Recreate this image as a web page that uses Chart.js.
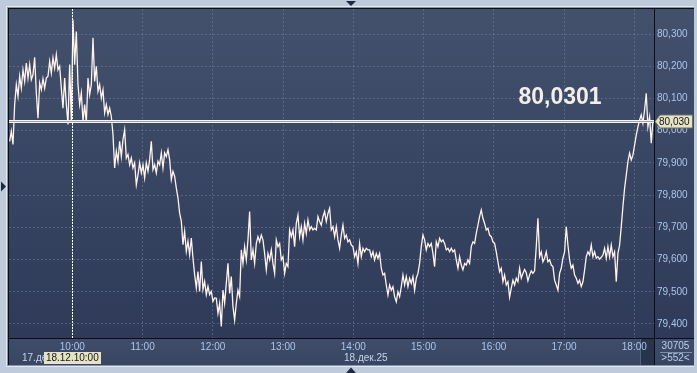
<!DOCTYPE html>
<html>
<head>
<meta charset="utf-8">
<script src="https://cdn.jsdelivr.net/npm/chart.js@4/dist/chart.umd.min.js"></script>
<style>
  html, body { margin: 0; padding: 0; background: #bfcbdb; }
  #priceChart { display: block; }
</style>
</head>
<body>
<canvas id="priceChart" width="697" height="373"></canvas>
<script>
// Tick prices, 18 Dec (one every ~85 s from 09:06:30)
const morningTicks = [
  79.967, 79.998, 79.957, 80.081, 80.143, 80.107, 80.169, 80.132, 80.189, 80.153,
  80.210, 80.163, 80.205, 80.158, 80.174, 80.228, 80.117, 80.039, 80.148, 80.127,
  80.161, 80.132, 80.163, 80.169, 80.215, 80.179, 80.226, 80.194, 80.236, 80.189,
  80.200, 80.132, 80.070, 80.163, 80.081, 80.019, 80.205, 80.029, 80.344, 80.205,
  80.308, 80.143, 80.081, 80.117, 80.029, 80.081, 80.024, 80.163, 80.112, 80.143,
  80.288, 80.153, 80.200, 80.122, 80.143, 80.101, 80.127, 80.055, 80.081, 80.050,
  80.070, 80.044, 79.988, 79.884, 79.936, 79.905, 79.967, 79.920, 79.972, 80.003,
  79.915, 79.926, 79.894, 79.915, 79.884, 79.900, 79.832, 79.863, 79.900, 79.869,
  79.894, 79.853, 79.900, 79.874, 79.910, 79.967, 79.879, 79.894, 79.869, 79.905,
  79.894, 79.931, 79.884, 79.931, 79.920, 79.941, 79.910, 79.848, 79.874, 79.858,
  79.822, 79.791, 79.744, 79.719, 79.646, 79.688, 79.625, 79.657, 79.615, 79.667,
  79.605, 79.553, 79.512, 79.563, 79.501, 79.594, 79.507, 79.532, 79.491, 79.517,
  79.491, 79.501, 79.470, 79.481
];
const middayTicks = [
  79.480, 79.433, 79.464, 79.392, 79.505, 79.464, 79.526, 79.588, 79.495, 79.547,
  79.454, 79.412, 79.464, 79.505, 79.485, 79.630, 79.588, 79.640, 79.599, 79.661,
  79.749, 79.599, 79.630, 79.588, 79.650, 79.671, 79.655, 79.676, 79.661, 79.619,
  79.568, 79.619, 79.599, 79.630, 79.588, 79.557, 79.661, 79.640, 79.650, 79.599,
  79.609, 79.557, 79.588, 79.578, 79.692, 79.671, 79.692, 79.640, 79.712, 79.738,
  79.671, 79.702, 79.661, 79.712, 79.681, 79.723, 79.692, 79.702, 79.692, 79.697,
  79.692, 79.733, 79.718, 79.707, 79.733, 79.749, 79.718, 79.743, 79.759, 79.692,
  79.702, 79.671, 79.702, 79.661, 79.635, 79.676, 79.707, 79.666, 79.676, 79.655,
  79.661, 79.645, 79.640, 79.609, 79.624, 79.588, 79.650, 79.609, 79.635, 79.624,
  79.635, 79.630, 79.630, 79.609, 79.624, 79.599, 79.619, 79.604, 79.619, 79.573,
  79.552, 79.557, 79.521, 79.490, 79.521, 79.505, 79.516, 79.485, 79.469, 79.500,
  79.485, 79.516, 79.552, 79.521, 79.547, 79.516, 79.542, 79.526, 79.547, 79.505,
  79.542, 79.557, 79.588, 79.640, 79.676, 79.661, 79.630, 79.650, 79.640, 79.650,
  79.619, 79.578
];
const afternoonTicks = [
  79.655, 79.640, 79.666, 79.655, 79.661, 79.650, 79.630, 79.635, 79.624, 79.635,
  79.624, 79.630, 79.599, 79.573, 79.609, 79.583, 79.568, 79.588, 79.583, 79.599,
  79.588, 79.640, 79.655, 79.650, 79.681, 79.707, 79.733, 79.754, 79.728, 79.712,
  79.692, 79.697, 79.676, 79.671, 79.655, 79.650, 79.624, 79.593, 79.562, 79.573,
  79.531, 79.552, 79.521, 79.531, 79.483, 79.511, 79.536, 79.521, 79.542, 79.531,
  79.573, 79.542, 79.557, 79.569, 79.559, 79.534, 79.552, 79.565, 79.557, 79.565,
  79.640, 79.728, 79.609, 79.624, 79.593, 79.604, 79.624, 79.593, 79.599, 79.583,
  79.578, 79.536, 79.521, 79.505, 79.557, 79.573, 79.604, 79.624, 79.702, 79.645,
  79.599, 79.573, 79.583, 79.552, 79.542, 79.526, 79.536, 79.516, 79.531, 79.567,
  79.609, 79.624, 79.614, 79.645, 79.609, 79.624, 79.604, 79.609, 79.601, 79.607,
  79.614, 79.635, 79.604, 79.640, 79.609, 79.645, 79.609, 79.624, 79.531, 79.619,
  79.645, 79.702, 79.764, 79.821, 79.862, 79.904, 79.930, 79.909, 79.924, 79.955,
  79.986, 80.012, 80.033, 80.049, 80.023, 80.064, 80.116, 80.012, 80.043, 79.961,
  80.030
];

// axis ticks
const hourTicks = [10, 11, 12, 13, 14, 15, 16, 17, 18];
const priceTicks = [79.4, 79.5, 79.6, 79.7, 79.8, 79.9, 80.0, 80.1, 80.2, 80.3];

const firstTickSec = 9 * 3600 + 6 * 60 + 30;   // 09:06:30
const tickStepSec = 85.4;
const viewStartSec = 32756;                     // 09:05:56
const viewEndSec = 65810;                       // 18:16:50
const priceMin = 79.3565;
const priceMax = 80.3776;

const lastPrice = 80.030;
const bigPriceText = '80,0301';
const cursorSec = 10 * 3600;                    // crosshair at 10:00
const cursorLabel = '18.12.10:00';
const prevDayLabel = '17.дек';
const dayLabel = '18.дек.25';
const volumeLabel = '30705';
const countLabel = '>552<';

const FONT = '"Liberation Sans", Arial, sans-serif';

const allTicks = morningTicks.concat(middayTicks, afternoonTicks);
const points = allTicks.map((p, i) => ({ x: firstTickSec + i * tickStepSec, y: p }));

function fmtPrice(v) {
    return v.toFixed(3).replace('.', ',');
}
function fmtHour(v) {
    const h = Math.round(v / 3600);
    return (h < 10 ? '0' : '') + h + ':00';
}

function tri(ctx, pts) {
    ctx.beginPath();
    ctx.moveTo(pts[0][0], pts[0][1]);
    ctx.lineTo(pts[1][0], pts[1][1]);
    ctx.lineTo(pts[2][0], pts[2][1]);
    ctx.closePath();
    ctx.fill();
}

// Terminal-style background, frame, price marker and captions
const terminalChrome = {
    id: 'terminalChrome',
    beforeDraw(chart) {
        const { ctx, chartArea: a, width, height } = chart;
        ctx.save();
        ctx.fillStyle = '#bfcbdb';
        ctx.fillRect(0, 0, width, height);

        const g = ctx.createLinearGradient(0, a.top, 0, a.bottom);
        g.addColorStop(0, '#43516d');
        g.addColorStop(1, '#2e3a57');
        ctx.fillStyle = g;
        ctx.fillRect(8, 8, 694 - 8, a.bottom - 8);

        const b = ctx.createLinearGradient(0, a.bottom, 0, 365);
        b.addColorStop(0, '#3f4d6a');
        b.addColorStop(1, '#394662');
        ctx.fillStyle = b;
        ctx.fillRect(8, a.bottom, 694 - 8, 365 - a.bottom);

        // scroll marker under the last hour
        ctx.fillStyle = '#28334c';
        ctx.fillRect(640, a.bottom + 1, a.right - 640, 365 - a.bottom - 1);
        ctx.fillStyle = '#55627e';
        ctx.fillRect(640, a.bottom + 1, 1, 365 - a.bottom - 1);
        ctx.restore();
    },
    afterDatasetsDraw(chart) {
        const { ctx, chartArea: a } = chart;
        const xs = chart.scales.x, ys = chart.scales.y;
        ctx.save();
        // crosshair
        const cx = Math.round(xs.getPixelForValue(cursorSec)) + 0.5;
        ctx.strokeStyle = '#ffffff';
        ctx.lineWidth = 1;
        ctx.setLineDash([2, 1]);
        ctx.beginPath();
        ctx.moveTo(cx, a.top);
        ctx.lineTo(cx, a.bottom);
        ctx.stroke();
        ctx.setLineDash([]);

        // last price line
        const py = Math.round(ys.getPixelForValue(lastPrice)) + 0.5;
        ctx.strokeStyle = '#9ea3ad';
        ctx.lineWidth = 3;
        ctx.beginPath();
        ctx.moveTo(a.left, py);
        ctx.lineTo(a.right, py);
        ctx.stroke();
        ctx.strokeStyle = '#f4f4f4';
        ctx.lineWidth = 1;
        ctx.beginPath();
        ctx.moveTo(a.left, py - 1);
        ctx.lineTo(a.right, py - 1);
        ctx.moveTo(a.left, py + 1);
        ctx.lineTo(a.right, py + 1);
        ctx.stroke();

        ctx.fillStyle = '#f3eee9';
        ctx.font = 'bold 23px ' + FONT;
        ctx.textAlign = 'center';
        ctx.textBaseline = 'alphabetic';
        ctx.fillText(bigPriceText, 560, py - 18);
        ctx.restore();
    },
    afterDraw(chart) {
        const { ctx, chartArea: a } = chart;
        const xs = chart.scales.x, ys = chart.scales.y;
        ctx.save();

        // frame bevel
        ctx.lineWidth = 1;
        ctx.strokeStyle = '#e3e9f1';
        ctx.beginPath();
        ctx.moveTo(6, 6.5); ctx.lineTo(697, 6.5);
        ctx.moveTo(6.5, 6); ctx.lineTo(6.5, 367);
        ctx.moveTo(6, 366.5); ctx.lineTo(697, 366.5);
        ctx.stroke();
        ctx.strokeStyle = '#8794a8';
        ctx.beginPath();
        ctx.moveTo(7, 7.5); ctx.lineTo(697, 7.5);
        ctx.moveTo(7.5, 7); ctx.lineTo(7.5, 366);
        ctx.moveTo(7, 365.5); ctx.lineTo(697, 365.5);
        ctx.stroke();

        ctx.strokeStyle = '#0b0e15';
        ctx.beginPath();
        ctx.moveTo(8, 8.5); ctx.lineTo(694, 8.5);
        ctx.moveTo(8.5, 8); ctx.lineTo(8.5, 365);
        ctx.moveTo(8, a.bottom + 0.5); ctx.lineTo(694, a.bottom + 0.5);
        ctx.moveTo(a.right + 0.5, 8); ctx.lineTo(a.right + 0.5, 365);
        ctx.stroke();
        ctx.fillStyle = '#bfcbdb';
        ctx.fillRect(694, 0, 3, 373);

        // price tag on the axis
        const py = Math.round(ys.getPixelForValue(lastPrice)) + 0.5;
        ctx.fillStyle = '#e5e3c6';
        ctx.strokeStyle = '#707060';
        ctx.beginPath();
        ctx.moveTo(a.right + 1, py);
        ctx.lineTo(a.right + 6, py - 6.5);
        ctx.lineTo(692.5, py - 6.5);
        ctx.lineTo(692.5, py + 6.5);
        ctx.lineTo(a.right + 6, py + 6.5);
        ctx.closePath();
        ctx.fill();
        ctx.stroke();
        ctx.fillStyle = '#141414';
        ctx.font = '10px ' + FONT;
        ctx.textAlign = 'left';
        ctx.textBaseline = 'middle';
        ctx.fillText(fmtPrice(lastPrice), a.right + 5, py + 0.5);

        // day captions under the time axis
        ctx.fillStyle = '#c6d4ea';
        ctx.fillText(prevDayLabel, 22, 358);
        ctx.fillText(dayLabel, 344, 358);

        const cx = xs.getPixelForValue(cursorSec);
        const w = ctx.measureText(cursorLabel).width + 4;
        ctx.fillStyle = '#e5e3c6';
        ctx.fillRect(Math.round(cx - w / 2), 352, Math.round(w), 12);
        ctx.fillStyle = '#161616';
        ctx.textAlign = 'center';
        ctx.fillText(cursorLabel, cx, 358.5);

        // volume box
        ctx.fillStyle = '#b8cdea';
        ctx.fillText(volumeLabel, 675.5, 346);
        ctx.fillText(countLabel, 675.5, 358.5);
        ctx.strokeStyle = '#7f8ead';
        ctx.beginPath();
        ctx.moveTo(660, 352.5);
        ctx.lineTo(692, 352.5);
        ctx.stroke();

        // scroll arrows
        ctx.fillStyle = '#1d2841';
        tri(ctx, [[346, 1], [356, 1], [351, 6]]);
        tri(ctx, [[346, 373], [356, 373], [351, 367.5]]);
        tri(ctx, [[1, 181.5], [1, 191.5], [6, 186.5]]);
        ctx.restore();
    }
};

const tickColor = '#a9c5ec';
const gridColor = 'rgba(112, 128, 165, 0.55)';

const ctx = document.getElementById('priceChart').getContext('2d');
const priceChart = new Chart(ctx, {
    type: 'line',
    data: {
        datasets: [{
            label: 'USD/RUB',
            data: points,
            borderColor: '#fff3ec',
            borderWidth: 1.3,
            pointRadius: 0,
            tension: 0,
            fill: false
        }]
    },
    options: {
        responsive: false,
        devicePixelRatio: 1,
        animation: false,
        events: [],
        layout: { padding: { left: 9, top: 9, right: 0, bottom: 0 }, autoPadding: false },
        plugins: { legend: { display: false }, tooltip: { enabled: false } },
        scales: {
            x: {
                type: 'linear',
                min: viewStartSec,
                max: viewEndSec,
                afterBuildTicks: (s) => { s.ticks = hourTicks.map(h => ({ value: h * 3600 })); },
                afterFit: (s) => { s.height = 35; s.paddingLeft = 0; s.paddingRight = 0; },
                grid: { color: gridColor, drawTicks: false },
                border: { display: false, dash: [2, 2] },
                ticks: {
                    autoSkip: false,
                    maxRotation: 0,
                    padding: 3,
                    color: tickColor,
                    font: { family: FONT, size: 10 },
                    callback: (v) => fmtHour(v)
                }
            },
            y: {
                type: 'linear',
                position: 'right',
                min: priceMin,
                max: priceMax,
                afterBuildTicks: (s) => { s.ticks = priceTicks.map(p => ({ value: p })); },
                afterFit: (s) => { s.width = 43; s.paddingTop = 0; s.paddingBottom = 0; },
                grid: { color: gridColor, drawTicks: false },
                border: { display: false, dash: [2, 2] },
                ticks: {
                    autoSkip: false,
                    padding: 3,
                    color: tickColor,
                    font: { family: FONT, size: 10 },
                    callback: (v) => fmtPrice(v)
                }
            }
        }
    },
    plugins: [terminalChrome]
});
</script>
</body>
</html>
